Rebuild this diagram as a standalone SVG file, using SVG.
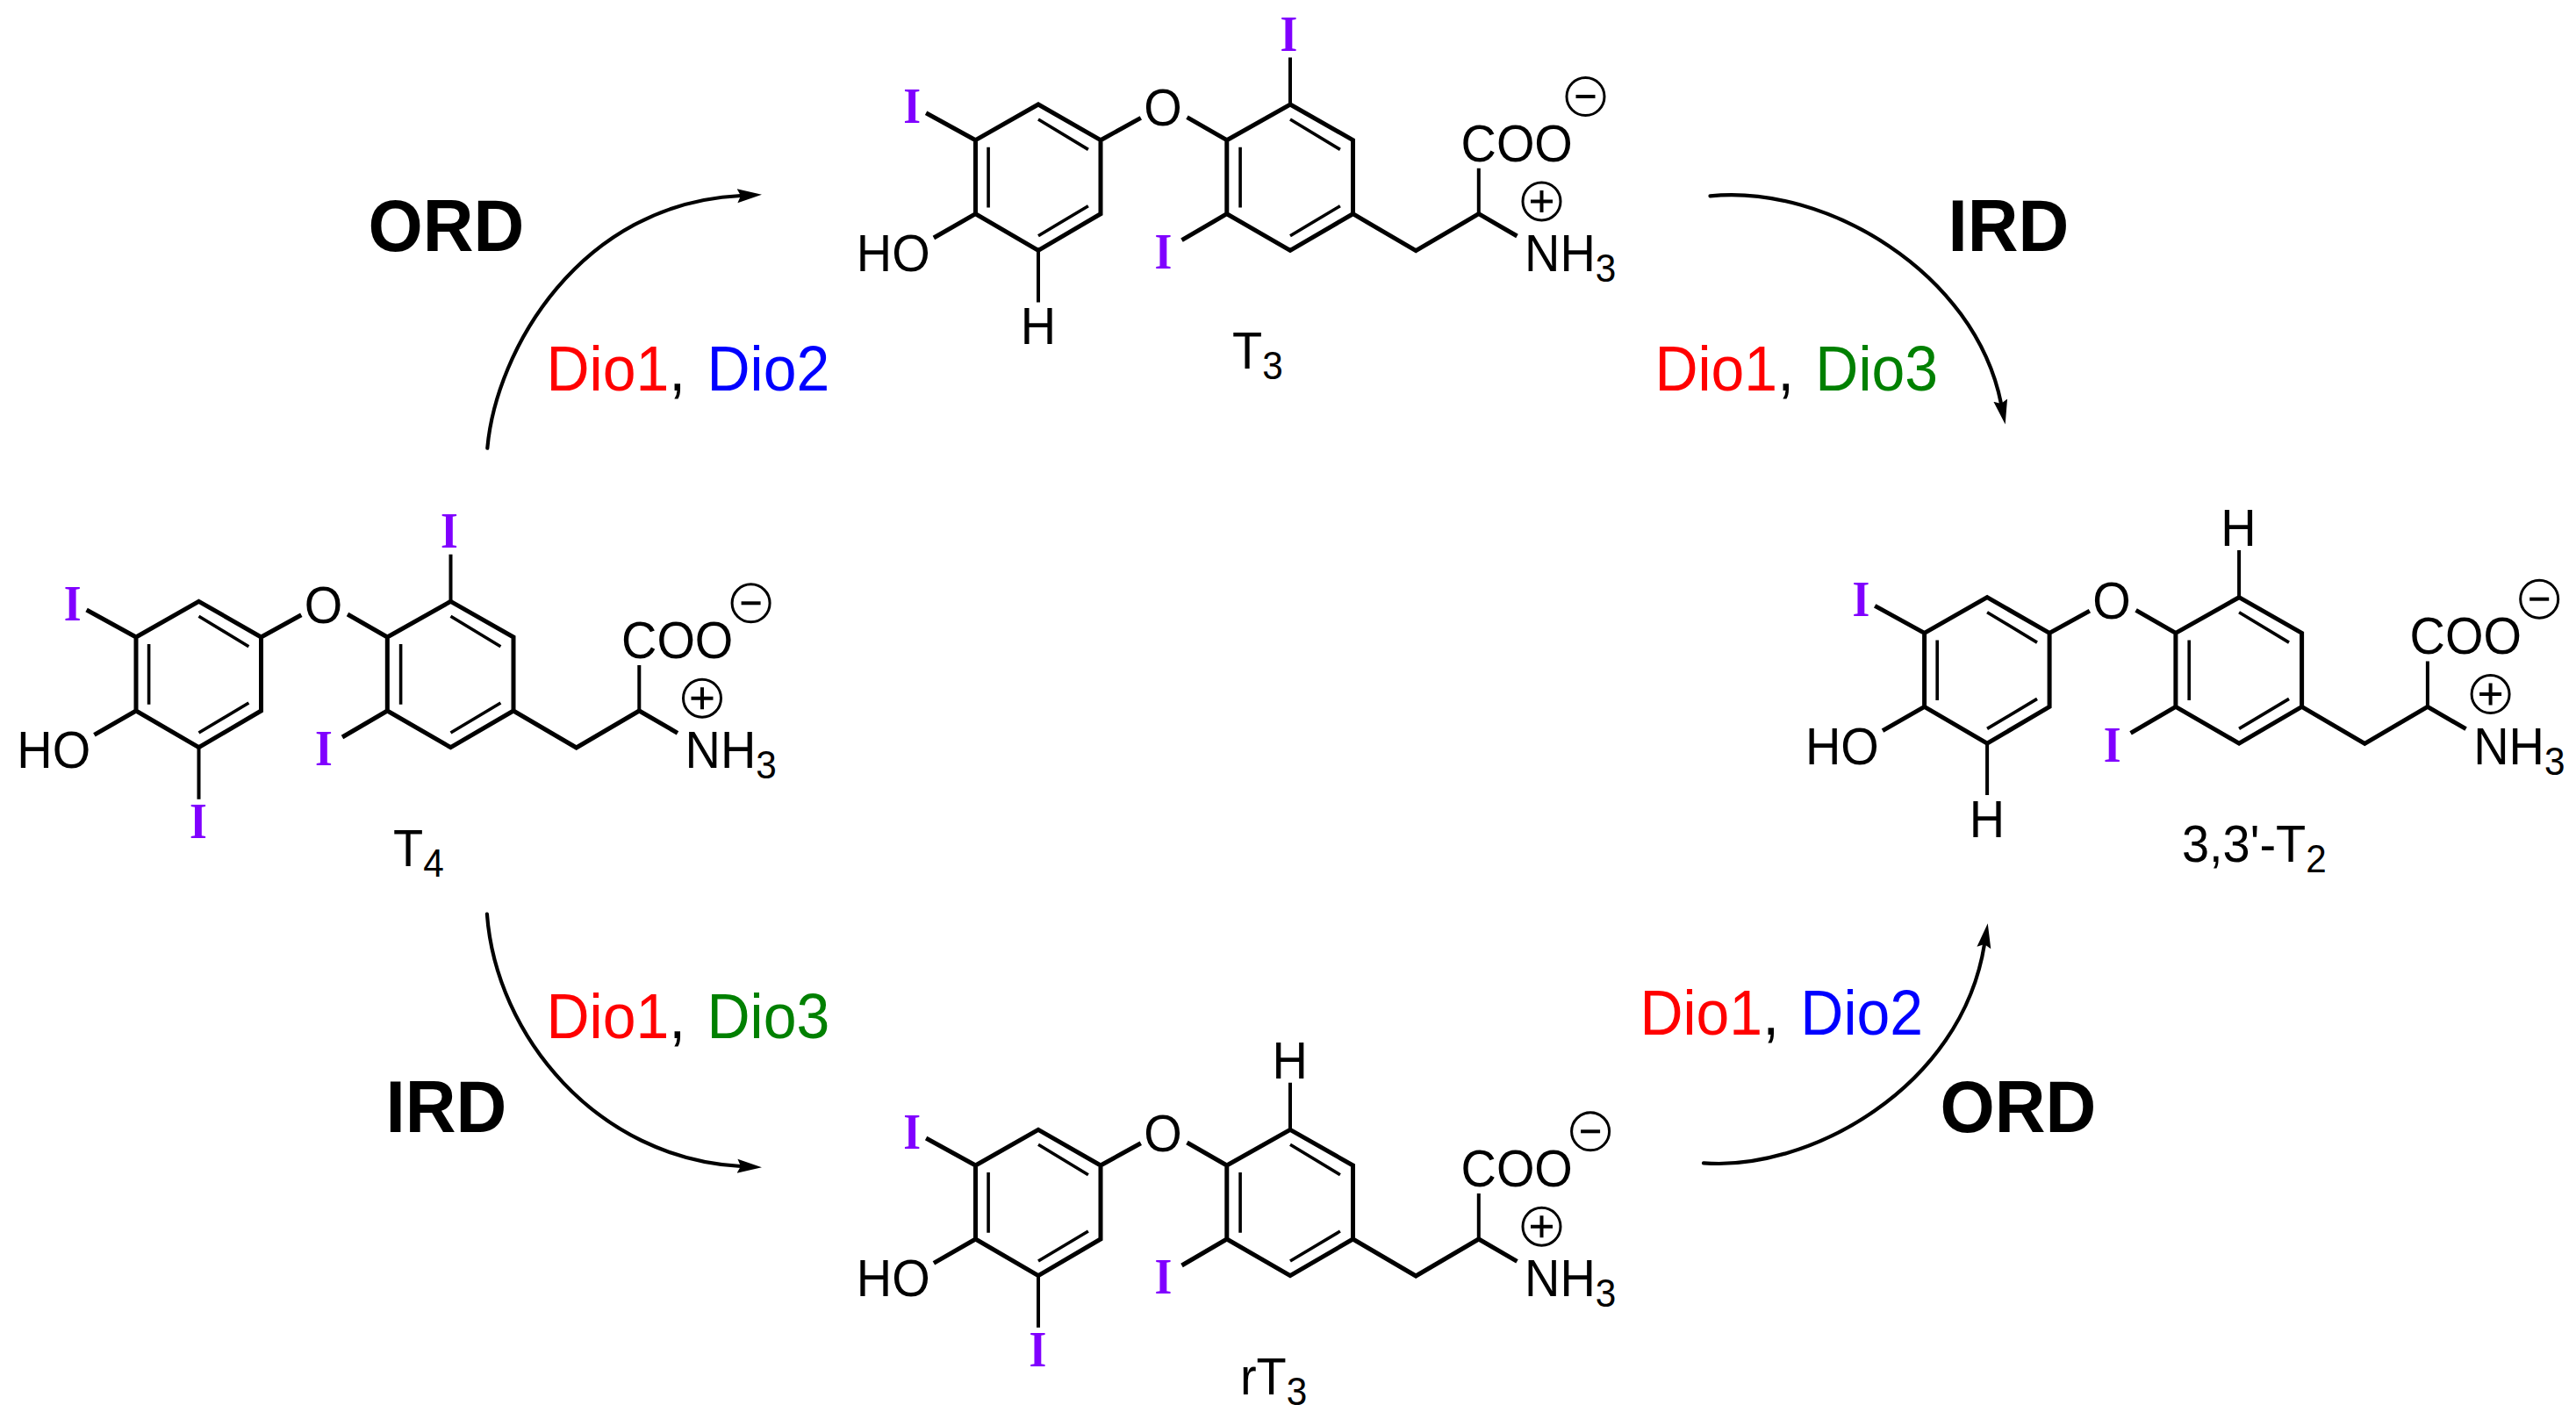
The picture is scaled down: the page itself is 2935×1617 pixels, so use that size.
<svg xmlns="http://www.w3.org/2000/svg" xmlns:xlink="http://www.w3.org/1999/xlink" width="2935" height="1617" viewBox="0 0 2935 1617">
<style>
text{font-family:"Liberation Sans",Arial,sans-serif;fill:#000;transform-box:fill-box;transform-origin:0 0}
.atom{font-size:59.5px;transform:translateY(1px) scaleX(.94)}
.mid{text-anchor:middle;transform-origin:50% 0}
.sub{font-size:45px}
.iod{font-family:"Liberation Serif","Times New Roman",serif;font-size:56.5px;font-weight:bold;fill:#8000ff;text-anchor:middle;transform-origin:50% 0;transform:scaleX(.9)}
.pw{font-size:84px;font-weight:bold;transform:scaleX(.952)}
.enz{font-size:72.7px;transform:translateY(1px) scaleX(.935)}
.r{fill:#f00}.b{fill:#00f}.g{fill:#008000}
.bond{fill:none;stroke:#000;stroke-width:5;stroke-linejoin:miter}
.thin{fill:none;stroke:#000;stroke-width:4}
.ring{fill:none;stroke:#000;stroke-width:3.6}
.arc{fill:none;stroke:#000;stroke-width:4.2;stroke-linecap:round;marker-end:url(#head)}
</style>
<defs>
<marker id="head" markerUnits="userSpaceOnUse" markerWidth="32" markerHeight="24" refX="4" refY="12" orient="auto" viewBox="0 0 32 24"><path d="M0,4 L28,12 L0,20 L4,12Z" fill="#000"/></marker>
<g id="skeleton">
<path class="bond" d="M226.5,685.3L297.5,726V810L226.5,851.7L155,810V726ZM513.5,685.3L585,726V810L513.5,851.7L441.3,810V726ZM585,810L656.7,852L728.3,810L772,835.3M297.5,726L343.3,700.7M396,700L441.3,726M155,810L107.4,837.3M155,726L98.6,695M441.3,810L390,840"/>
<path class="thin" d="M513.5,685.3V631.7M226.5,851.7V910.7M728.3,810V758"/>
<path class="ring" d="M226.5,702.3L283.4,736.7M283.4,801L226.5,835M169.6,734V802.7M513.5,702.3L570.4,736.7M570.4,801L513.5,835M456.6,734V802.7"/>
</g>
<g id="minus"><circle r="21.5" fill="none" stroke="#000" stroke-width="3"/><path d="M-11,0H11" stroke="#000" stroke-width="4"/></g>
<g id="plus"><circle r="21.5" fill="none" stroke="#000" stroke-width="3"/><path d="M-12.5,0H12.5M0,-12.5V12.5" stroke="#000" stroke-width="4"/></g>
</defs>
<rect width="2935" height="1617" fill="#fff"/>
<g id="connectors">
<path class="arc" d="M555.3,510.7C565,400 660,232 844,223"/>
<path class="arc" d="M1948.5,223.3C2080,210 2250,310 2280,460"/>
<path class="arc" d="M554.9,1041.7C565,1180 680,1320 844,1329"/>
<path class="arc" d="M1941,1325.3C2060,1335 2235,1240 2261,1076"/>
</g>
<g id="T4">
<use xlink:href="#skeleton" href="#skeleton"/>
<text class="iod" x="82.7" y="706.7">I</text><text class="iod" x="512" y="624.3">I</text><text class="iod" x="369" y="872.3">I</text><text class="iod" x="226" y="955">I</text>
<text class="atom mid" x="368.5" y="708.6">O</text><text class="atom" x="19.3" y="874.3">HO</text><text class="atom" x="708" y="749">COO</text>
<text class="atom" x="780.6" y="874.3">NH<tspan class="sub" dy="12">3</tspan></text>
<use xlink:href="#minus" href="#minus" x="855.6" y="687.3"/><use xlink:href="#plus" href="#plus" x="800" y="795.7"/>
<text class="atom" x="448" y="985.7">T<tspan class="sub" dy="12">4</tspan></text>
</g>
<g id="T3" transform="translate(956.5,-566.3)">
<use xlink:href="#skeleton" href="#skeleton"/>
<text class="iod" x="82.7" y="706.7">I</text><text class="iod" x="512" y="624.3">I</text><text class="iod" x="369" y="872.3">I</text>
<text class="atom mid" x="226.5" y="957">H</text>
<text class="atom mid" x="368.5" y="708.6">O</text><text class="atom" x="19.3" y="874.3">HO</text><text class="atom" x="708" y="749">COO</text>
<text class="atom" x="780.6" y="874.3">NH<tspan class="sub" dy="12">3</tspan></text>
<use xlink:href="#minus" href="#minus" x="850" y="676.3"/><use xlink:href="#plus" href="#plus" x="800" y="795.7"/>
<text class="atom" x="447.5" y="985.6">T<tspan class="sub" dy="12">3</tspan></text>
</g>
<g id="T2" transform="translate(2037.6,-4.6)">
<use xlink:href="#skeleton" href="#skeleton"/>
<text class="iod" x="82.7" y="706.7">I</text><text class="iod" x="369" y="872.3">I</text>
<text class="atom mid" x="512.8" y="625.9">H</text><text class="atom mid" x="226.4" y="957.3">H</text>
<text class="atom mid" x="368.5" y="708.6">O</text><text class="atom" x="19.3" y="874.3">HO</text><text class="atom" x="708" y="749">COO</text>
<text class="atom" x="780.6" y="874.3">NH<tspan class="sub" dy="12">3</tspan></text>
<use xlink:href="#minus" href="#minus" x="855.6" y="687.3"/><use xlink:href="#plus" href="#plus" x="800" y="795.7"/>
<text class="atom" x="448.4" y="985.6">3,3'-T<tspan class="sub" dy="12">2</tspan></text>
</g>
<g id="rT3" transform="translate(956.5,602)">
<use xlink:href="#skeleton" href="#skeleton"/>
<text class="iod" x="82.7" y="706.7">I</text><text class="iod" x="369" y="872.3">I</text><text class="iod" x="226" y="955">I</text>
<text class="atom mid" x="513.2" y="626.3">H</text>
<text class="atom mid" x="368.5" y="708.6">O</text><text class="atom" x="19.3" y="874.3">HO</text><text class="atom" x="708" y="749">COO</text>
<text class="atom" x="780.6" y="874.3">NH<tspan class="sub" dy="12">3</tspan></text>
<use xlink:href="#minus" href="#minus" x="855.6" y="687.3"/><use xlink:href="#plus" href="#plus" x="800" y="795.7"/>
<text class="atom" x="456.5" y="986.3">rT<tspan class="sub" dy="12">3</tspan></text>
</g>
<g id="labels">
<text class="pw" x="419.5" y="286.5">ORD</text>
<text class="pw" x="2219.5" y="286.5">IRD</text>
<text class="pw" x="439.6" y="1289.8">IRD</text>
<text class="pw" x="2210.6" y="1289.8">ORD</text>
<text class="enz" x="622.5" y="444"><tspan class="r">Dio1</tspan>, <tspan class="b" dx="5.8">Dio2</tspan></text>
<text class="enz" x="1885.4" y="444"><tspan class="r">Dio1</tspan>, <tspan class="g" dx="5.8">Dio3</tspan></text>
<text class="enz" x="622.5" y="1182"><tspan class="r">Dio1</tspan>, <tspan class="g" dx="5.8">Dio3</tspan></text>
<text class="enz" x="1868.4" y="1178"><tspan class="r">Dio1</tspan>, <tspan class="b" dx="5.8">Dio2</tspan></text>
</g>
</svg>
